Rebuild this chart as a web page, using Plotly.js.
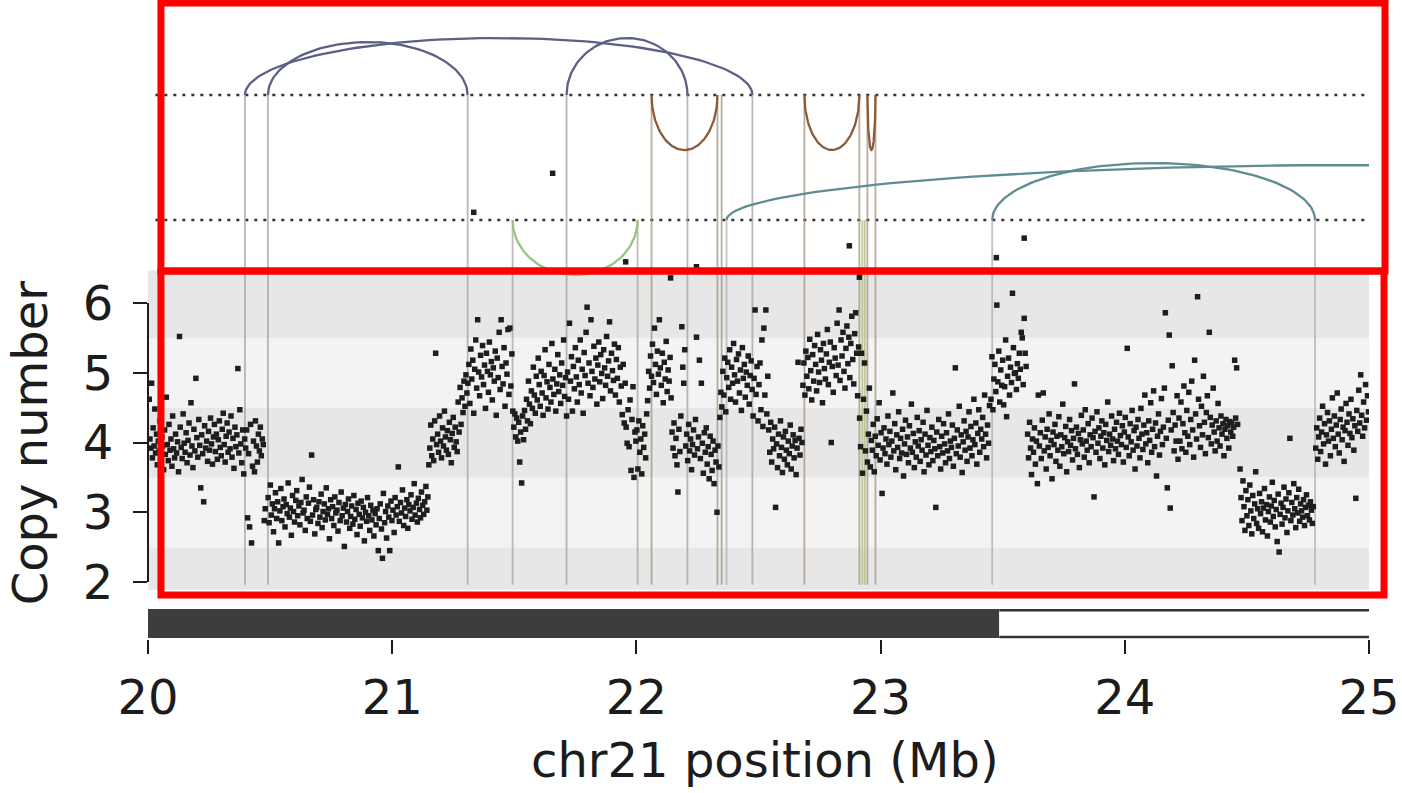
<!DOCTYPE html>
<html><head><meta charset="utf-8">
<script src="https://cdn.plot.ly/plotly-3.0.1.min.js"></script>
<style>html,body{margin:0;padding:0;background:#fff;}#chart{width:1402px;height:793px;}</style>
</head><body><div id="chart"></div>
<script>
// ---------- DATA ----------
// Axis ticks
const xTicks = [20, 21, 22, 23, 24, 25];
const yTicks = [2, 3, 4, 5, 6];
const xTitle = 'chr21 position (Mb)';
const yTitle = 'Copy number';

// Structural variants (breakpoint positions, Mb) and their group
const svStartMb = [20.397, 20.491, 21.714, 22.062, 22.688, 22.946, 21.493, 22.369, 23.457];
const svEndMb   = [22.475, 21.309, 22.209, 22.332, 22.913, 22.979, 22.005, 27.619, 24.779];
const svGroup   = ['blue', 'blue', 'blue', 'brown', 'brown', 'brown', 'green', 'teal', 'teal'];
// Breakpoints whose partner is not drawn as an arc
const bkExtraMb    = [22.349, 22.925, 22.935];
const bkExtraGroup = ['brown', 'olive', 'olive'];

// Chromosome ideogram bands
const bandStartMb = [20.0, 23.486];
const bandEndMb   = [23.486, 25.0];
const bandStain   = ['gpos', 'gneg'];

// Copy-number bins [position Mb, copy number]
const cnSegA = [[20.005,4.62],[20.008,4.05],[20.012,3.92],[20.015,4.85],[20.018,3.78],[20.021,4.21],[20.025,3.95],[20.028,4.48],[20.031,3.85],[20.035,4.12],
[20.038,3.68],[20.042,4.02],[20.046,3.88],[20.049,4.31],[20.053,3.72],[20.057,4.08],[20.060,3.95],[20.064,3.61],[20.068,4.18],[20.071,3.83],
[20.075,4.65],[20.079,3.97],[20.083,3.74],[20.086,4.26],[20.090,3.89],[20.094,4.05],[20.098,3.66],[20.101,4.38],[20.105,3.91],[20.109,3.78],
[20.113,4.12],[20.117,3.85],[20.121,4.01],[20.125,3.58],[20.129,5.52],[20.132,4.22],[20.136,3.93],[20.140,3.77],[20.144,4.41],[20.148,3.99],
[20.152,3.86],[20.156,4.14],[20.160,3.71],[20.164,4.03],[20.168,4.28],[20.172,3.82],[20.176,4.57],[20.180,3.95],[20.184,3.64],[20.188,4.19],
[20.192,3.88],[20.196,4.92],[20.200,4.07],[20.204,3.79],[20.208,4.33],[20.212,3.96],[20.216,3.35],[20.220,4.11],[20.224,3.84],[20.228,3.15],
[20.232,4.24],[20.236,3.92],[20.240,4.02],[20.244,3.73],[20.248,4.16],[20.252,3.89],[20.256,4.35],[20.260,3.98],[20.264,3.69],[20.268,4.08],
[20.272,4.26],[20.276,3.87],[20.280,4.12],[20.284,3.76],[20.288,4.04],[20.292,4.31],[20.296,3.93],[20.300,3.81],[20.304,4.19],[20.308,4.42],
[20.312,3.97],[20.316,3.72],[20.320,4.09],[20.324,4.28],[20.328,3.86],[20.332,4.15],[20.336,3.91],[20.340,4.38],[20.344,3.79],[20.348,4.06],
[20.352,3.63],[20.356,4.22],[20.360,3.94],[20.364,4.11],[20.368,5.06],[20.372,3.85],[20.376,4.47],[20.380,3.98],[20.384,3.71],[20.388,4.18],
[20.392,3.55],[20.396,4.05],[20.400,3.92],[20.404,4.18],[20.408,2.92],[20.412,3.84],[20.416,2.79],[20.420,4.26],[20.424,2.56],[20.428,3.66],
[20.432,4.02],[20.436,3.58],[20.440,4.31],[20.444,3.95],[20.448,3.72],[20.452,4.12],[20.456,3.88],[20.460,4.22],[20.464,3.81],[20.468,4.05],
[20.472,3.97],[20.476,2.88],[20.480,3.05]];
const cnSegB = [[20.492,3.21],[20.496,2.85],[20.501,3.39],[20.505,2.96],[20.509,3.12],[20.514,2.72],[20.518,3.05],[20.522,3.28],[20.527,2.91],[20.531,3.15],
[20.535,2.56],[20.540,3.02],[20.544,3.34],[20.548,2.88],[20.553,3.08],[20.557,3.19],[20.561,2.79],[20.566,3.11],[20.570,2.98],[20.574,3.42],
[20.579,2.93],[20.583,3.06],[20.587,2.67],[20.592,3.24],[20.596,3.01],[20.600,2.86],[20.605,3.17],[20.609,3.31],[20.613,2.95],[20.618,3.09],
[20.622,2.82],[20.626,3.14],[20.631,3.47],[20.635,2.99],[20.639,3.03],[20.644,2.74],[20.648,3.22],[20.652,2.91],[20.657,3.13],[20.661,3.36],
[20.665,2.87],[20.670,3.82],[20.674,2.96],[20.678,3.18],[20.683,2.69],[20.687,3.04],
[20.691,3.07],[20.696,2.84],[20.700,3.15],[20.704,2.93],[20.709,3.26],[20.713,2.78],[20.717,3.01],[20.722,3.12],[20.726,2.89],[20.730,3.35],
[20.735,2.97],[20.739,3.05],[20.743,2.62],[20.748,3.18],[20.752,2.91],[20.756,3.08],[20.761,2.81],[20.765,3.22],[20.769,2.99],[20.774,3.03],
[20.778,2.73],[20.782,3.14],[20.787,2.88],[20.791,3.29],[20.795,2.95],[20.800,3.06],[20.804,2.51],[20.808,3.11],[20.813,2.86],[20.817,3.01],
[20.821,3.19],[20.826,2.77],[20.830,2.94],[20.834,3.09],[20.839,2.83],[20.843,3.24],[20.847,2.90],[20.852,3.04],[20.856,2.68],[20.860,3.13],
[20.865,2.97],[20.869,2.80],[20.873,3.16],[20.878,2.92],[20.882,3.07],[20.886,2.59],[20.891,3.00],[20.895,2.87],[20.899,3.21],[20.904,2.95],
[20.908,2.74],[20.912,3.10],[20.917,2.89],[20.921,3.03],[20.925,2.66],[20.930,2.98],
[20.934,2.82],[20.938,3.05],[20.943,2.45],[20.947,2.91],[20.951,3.12],[20.956,2.76],[20.960,2.34],[20.964,3.27],[20.969,2.85],[20.973,3.01],
[20.977,2.63],[20.982,3.09],[20.986,2.93],[20.990,2.45],[20.995,3.16],[20.999,2.88],[21.003,3.03],[21.008,2.71],[21.012,3.21],[21.016,2.96],
[21.021,3.08],[21.025,3.65],[21.029,2.87],[21.034,3.14],[21.038,2.99],[21.042,3.32],[21.047,2.81],[21.051,3.06],[21.055,2.94],[21.060,3.18],
[21.064,2.77],[21.068,3.11],[21.073,3.02],[21.077,3.25],[21.081,2.90],[21.086,3.07],[21.090,3.41],[21.094,2.96],[21.099,3.13],[21.103,2.86],
[21.107,3.20],[21.112,3.04],[21.116,2.92],[21.120,3.29],[21.125,3.10],[21.129,2.97],[21.133,3.15],[21.138,3.37],[21.142,3.03],[21.146,3.22]];
const cnSegC = [[21.150,3.68],[21.154,3.92],[21.158,4.25],[21.162,3.81],[21.166,4.05],[21.170,3.74],[21.174,4.31],[21.178,5.28],[21.182,3.97],[21.186,4.12],
[21.190,3.86],[21.194,4.38],[21.198,4.02],[21.202,3.78],[21.206,4.21],[21.210,3.95],[21.214,4.45],[21.218,4.08],[21.222,3.89],[21.226,4.17],
[21.230,3.83],[21.234,4.29],[21.238,4.04],[21.242,3.71],[21.246,4.13],[21.250,4.36],[21.254,3.93],[21.258,4.22],[21.262,4.01],[21.266,3.87],
[21.270,4.58],[21.274,4.15],[21.278,4.79],[21.282,4.26],[21.286,4.64],[21.290,4.43],[21.294,4.88],[21.298,4.52],[21.302,4.97],[21.306,4.71]];
const cnSegD = [[21.310,4.85],[21.314,5.12],[21.318,4.56],[21.322,5.34],[21.326,4.91],[21.330,5.18],[21.334,4.42],[21.338,5.05],[21.342,5.47],[21.346,4.78],
[21.350,5.76],[21.354,5.01],[21.358,4.67],[21.362,5.25],[21.366,4.94],[21.370,5.39],[21.374,4.83],[21.378,5.11],[21.382,4.49],[21.386,5.28],
[21.390,5.02],[21.394,4.72],[21.398,5.44],[21.402,4.97],[21.406,5.16],[21.410,4.61],[21.414,5.07],[21.418,4.88],[21.422,5.31],[21.426,4.39],
[21.430,5.21],[21.434,4.93],[21.438,5.58],[21.442,4.76],[21.446,5.76],[21.450,5.09],[21.454,4.84],[21.458,5.36],[21.462,4.52],[21.466,5.14],
[21.470,4.98],[21.474,5.62],[21.478,4.69],[21.482,5.64],[21.486,4.81],[21.490,5.27],[21.494,4.45]];
const cnSegE = [[21.498,4.22],[21.502,4.41],[21.506,4.08],[21.510,4.35],[21.514,4.02],[21.518,4.29],[21.522,3.72],[21.526,4.15],[21.530,3.42],[21.534,4.38],
[21.538,4.04],[21.542,4.46],[21.546,4.19],[21.550,4.62],[21.554,4.31],[21.558,4.88],[21.562,4.55],[21.566,4.27],[21.570,4.74],[21.574,4.49],
[21.578,5.08],[21.582,4.68],[21.586,4.42],[21.590,4.95],[21.594,4.61],[21.598,5.21],[21.602,4.83],[21.606,4.52],[21.610,5.02],[21.614,4.71],
[21.618,4.39],[21.622,4.96],[21.626,5.33],[21.630,4.64],[21.634,4.87],[21.638,4.48],[21.642,5.12],[21.646,4.79],[21.650,4.58],[21.654,5.42],
[21.658,4.91],[21.662,4.69],[21.666,5.05],[21.670,4.45],[21.674,4.84],[21.678,5.26],[21.682,4.73],[21.686,4.97],[21.690,4.56],[21.694,5.14],
[21.698,4.82],[21.702,5.47],[21.706,4.66],[21.710,4.93],[21.714,4.38]];
const cnSegF = [[21.718,5.01],[21.722,4.62],[21.726,5.71],[21.730,4.88],[21.734,5.23],[21.738,4.45],[21.742,5.09],[21.746,4.77],[21.750,5.36],[21.754,4.94],
[21.758,4.58],[21.762,5.18],[21.766,4.83],[21.770,5.47],[21.774,4.71],[21.778,5.05],[21.782,4.42],[21.786,5.29],[21.790,4.96],[21.794,5.58],
[21.798,5.94],[21.802,4.85],[21.806,5.14],[21.810,4.67],[21.814,5.76],[21.818,5.02],[21.822,4.79],[21.826,5.38],[21.830,4.91],[21.834,5.21],
[21.838,4.55],[21.842,5.11],[21.846,5.44],[21.850,4.87],[21.854,5.26],[21.858,4.99],[21.862,4.63],[21.866,5.33],[21.870,5.07],[21.874,4.82],
[21.878,5.52],[21.882,4.95],[21.886,5.17],[21.890,5.73],[21.894,4.74],[21.898,5.28],[21.902,5.03],[21.906,4.89],[21.910,5.41],[21.914,4.68],
[21.918,5.19],[21.922,4.92],[21.926,5.36],[21.930,4.58],[21.934,5.08],[21.938,4.81],[21.942,4.40],[21.946,5.12],[21.950,4.28],[21.954,4.85],
[21.958,4.22],[21.962,3.99],[21.966,4.47],[21.970,3.94],[21.974,4.61],[21.978,3.60],[21.982,4.33],[21.986,4.80],[21.990,3.50],[21.994,4.15],[21.998,4.02]];
const cnSegG = [[22.002,4.18],[22.006,3.62],[22.010,4.31],[22.014,3.86],[22.018,4.05],[22.022,3.55],[22.026,4.24],[22.030,3.93],[22.034,4.12],[22.038,3.78],
[22.042,4.41],[22.046,4.60],[22.050,5.02],[22.054,4.78],[22.058,5.24],[22.062,4.95],[22.066,5.41],[22.070,4.86],[22.074,5.64],[22.078,5.12],
[22.082,4.69],[22.086,5.31],[22.090,4.98],[22.094,5.76],[22.098,5.07],[22.102,4.82],[22.106,5.28],[22.110,4.57],[22.114,5.15],[22.118,4.91],
[22.122,5.45],[22.126,4.73],[22.130,5.04],[22.134,4.88],[22.138,5.22],[22.142,4.64],[22.146,4.15],[22.150,3.92],[22.154,4.28],[22.158,3.81],
[22.162,4.06],[22.166,3.68],[22.170,3.29],[22.174,4.19],[22.178,3.87],[22.182,4.38],[22.186,5.66],[22.190,5.08],[22.194,4.85],[22.198,5.33]];
const cnSegH = [[22.202,3.95],[22.206,4.12],[22.210,3.74],[22.214,4.26],[22.218,3.88],[22.222,4.05],[22.226,3.61],[22.230,3.97],[22.234,4.18],[22.238,3.82],
[22.242,4.33],[22.246,5.51],[22.250,3.91],[22.254,4.08],[22.258,5.18],[22.262,3.77],[22.266,4.85],[22.270,3.99],[22.274,3.56],[22.278,4.14],
[22.282,3.86],[22.286,4.21],[22.290,3.69],[22.294,3.94],[22.298,3.48],[22.302,4.09],[22.306,3.83],[22.310,3.60],[22.314,4.02],[22.318,3.41],
[22.322,3.89],[22.326,3.72],[22.330,3.00],[22.334,3.95],[22.338,3.65]];
const cnSegI = [[22.342,4.36],[22.346,4.72],[22.350,4.51],[22.354,5.02],[22.358,4.68],[22.362,5.21],[22.366,4.44],[22.370,4.93],[22.374,5.15],[22.378,4.79],
[22.382,5.33],[22.386,4.62],[22.390,5.08],[22.394,4.85],[22.398,5.42],[22.402,4.97],[22.406,4.58],[22.410,5.19],[22.414,4.88],[22.418,5.27],
[22.422,4.71],[22.426,5.04],[22.430,4.46],[22.434,5.36],[22.438,4.92],[22.442,5.12],[22.446,4.65],[22.450,5.01],[22.454,4.82],[22.458,5.24],
[22.462,4.55],[22.466,4.96],[22.470,5.17],[22.474,4.76],[22.478,4.38],[22.482,4.92],[22.486,5.90],[22.490,4.69],[22.494,5.09],[22.498,4.31],
[22.502,4.83],[22.506,5.14],[22.510,4.47],[22.514,5.47],[22.518,4.23],[22.522,5.64],[22.526,4.68],[22.530,5.90],[22.534,4.41],[22.538,4.95]];
const cnSegJ = [[22.542,4.18],[22.546,3.86],[22.550,4.29],[22.554,3.72],[22.558,4.05],[22.562,3.91],[22.566,4.22],[22.570,3.07],[22.574,3.98],[22.578,3.64],
[22.582,4.12],[22.586,3.81],[22.590,4.31],[22.594,3.93],[22.598,3.57],[22.602,4.08],[22.606,3.76],[22.610,4.16],[22.614,3.89],[22.618,3.68],
[22.622,4.02],[22.626,3.84],[22.630,4.25],[22.634,3.62],[22.638,3.95],[22.642,4.11],[22.646,3.78],[22.650,4.03],[22.654,3.54],[22.658,3.92],
[22.662,5.15],[22.666,4.06],[22.670,3.82],[22.674,4.19],[22.678,4.00]];
const cnSegK = [[22.682,4.82],[22.686,5.14],[22.690,4.68],[22.694,5.31],[22.698,4.95],[22.702,5.22],[22.706,4.77],[22.710,5.48],[22.714,5.03],[22.718,4.61],
[22.722,5.26],[22.726,4.88],[22.730,5.39],[22.734,5.12],[22.738,4.74],[22.742,5.55],[22.746,5.01],[22.750,4.86],[22.754,5.33],[22.758,5.18],
[22.762,4.57],[22.766,5.42],[22.770,5.06],[22.774,4.91],[22.778,5.27],[22.782,5.62],[22.786,4.83],[22.790,5.15],[22.794,5.44],[22.798,4.00],
[22.802,5.09],[22.806,4.72],[22.810,5.36],[22.814,5.21],[22.818,4.96],[22.822,5.71],[22.826,5.11],[22.830,5.90],[22.834,4.89],[22.838,5.47],
[22.842,5.24],[22.846,5.58],[22.850,5.02],[22.854,4.78],[22.858,5.35],[22.862,5.67],[22.866,5.13],[22.870,5.51],[22.874,4.93],[22.878,5.42],
[22.882,5.81],[22.886,5.19],[22.890,4.84],[22.894,5.56],[22.898,5.86],[22.902,5.28],[22.906,4.67],[22.910,5.37]];
const cnSegL = [[22.914,4.35],[22.918,3.94],[22.922,5.28],[22.926,3.56],[22.930,4.62],[22.934,5.14],[22.938,3.88],[22.942,4.45],[22.946,3.72],[22.950,4.12],
[22.954,4.78],[22.958,3.65],[22.962,4.03],[22.966,3.89],[22.970,4.26],[22.974,3.58],[22.978,4.09],[22.982,3.81],[22.986,4.34],[22.990,3.96],
[22.994,4.57],[22.998,3.75],[23.002,4.14],[23.006,3.27],[23.010,3.92],[23.014,4.21],[23.018,3.84],[23.022,4.05],[23.026,3.69],[23.030,4.38],
[23.034,3.97],[23.038,4.16],[23.042,3.79],[23.046,4.02],[23.050,4.71],[23.054,3.88],[23.058,4.27],[23.062,3.61],[23.066,4.11],[23.070,3.93],
[23.074,4.44],[23.078,3.77],[23.082,4.06],[23.086,3.85],[23.090,4.19],[23.094,3.52],[23.098,3.98],[23.102,4.32],[23.106,3.83],[23.110,4.08],
[23.114,3.71],[23.118,4.24],[23.122,3.92],[23.126,4.55],[23.130,3.86],[23.134,4.13],[23.138,3.64],[23.142,4.01],[23.146,3.79],[23.150,4.36],
[23.154,3.95],[23.158,4.17],[23.162,3.73],[23.166,4.04],[23.170,3.89],[23.174,4.29],[23.178,3.58],[23.182,4.12],[23.186,3.82],[23.190,4.46],
[23.194,3.96],[23.198,3.68],[23.202,4.07],[23.206,3.87],[23.210,4.22],[23.214,3.74],[23.218,4.03],[23.222,3.91],[23.226,3.07],[23.230,4.15],
[23.234,3.81],[23.238,4.33],[23.242,3.94],[23.246,3.62],[23.250,4.09],[23.254,3.85],[23.258,4.27],[23.262,3.98],[23.266,3.71],[23.270,4.14],
[23.274,3.88],[23.278,4.41],[23.282,3.77],[23.286,4.02],[23.290,3.93],[23.294,4.25],[23.298,3.66],[23.302,4.06],[23.306,5.07],[23.310,3.84],
[23.314,4.18],[23.318,3.95],[23.322,4.52],[23.326,3.79],[23.330,4.11],[23.334,3.57],[23.338,4.01],[23.342,4.31],[23.346,3.89],[23.350,4.16],
[23.354,3.73],[23.358,4.08],[23.362,4.44],[23.366,3.92],[23.370,4.23],[23.374,3.81],[23.378,4.04],[23.382,4.62],[23.386,3.97],[23.390,4.28],
[23.394,3.69],[23.398,4.13],[23.402,4.47],[23.406,3.86],[23.410,4.19],[23.414,4.05],[23.418,4.36],[23.422,3.94],[23.426,4.68],[23.430,4.12],
[23.434,3.78],[23.438,4.25],[23.442,3.99],[23.446,4.53]];
const cnSegM = [[23.452,4.62],[23.456,5.23],[23.460,4.47],[23.464,4.91],[23.468,5.12],[23.472,4.73],[23.476,5.97],[23.480,4.87],[23.484,5.31],[23.488,4.58],
[23.492,5.04],[23.496,4.82],[23.500,5.18],[23.504,4.54],[23.508,4.80],[23.512,5.47],[23.516,4.37],[23.520,4.95],[23.524,5.21],[23.528,4.68],
[23.532,5.08],[23.536,4.86],[23.540,6.14],[23.544,5.36],[23.548,4.99],[23.552,5.00],[23.556,4.76],[23.560,5.13],[23.564,4.92],[23.568,5.28],
[23.572,5.05],[23.576,5.58],[23.580,5.50],[23.584,4.83],[23.588,5.78],[23.592,5.28],[23.596,5.09]];
const cnSegN = [[23.602,4.12],[23.606,3.78],[23.610,4.29],[23.614,3.92],[23.618,3.54],[23.622,4.05],[23.626,3.86],[23.630,4.21],[23.634,3.69],[23.638,4.02],
[23.642,3.41],[23.646,4.68],[23.650,3.95],[23.654,4.14],[23.658,3.77],[23.662,4.32],[23.666,4.71],[23.670,3.88],[23.674,4.08],[23.678,3.62],
[23.682,4.19],[23.686,3.93],[23.690,4.41],[23.694,3.81],[23.698,4.03],[23.702,3.48],[23.706,4.15],[23.710,3.97],[23.714,4.26],[23.718,3.73],
[23.722,4.09],[23.726,3.89],[23.730,4.37],[23.734,3.66],[23.738,4.11],[23.742,3.94],[23.746,4.55],[23.750,3.84],[23.754,4.07],[23.758,4.23],
[23.762,3.58],[23.766,4.01],[23.770,3.87],[23.774,4.33],[23.778,3.96],[23.782,4.17],[23.786,3.75],[23.790,4.06],[23.794,4.84],[23.798,3.91],
[23.802,4.22],[23.806,3.83],[23.810,4.13],[23.814,3.64],[23.818,4.04],[23.822,4.39],[23.826,3.98],[23.830,4.18],[23.834,3.79],[23.838,4.47],
[23.842,4.02],[23.846,3.89],[23.850,4.27],[23.854,3.71],[23.858,4.11],[23.862,3.94],[23.866,4.35],[23.870,4.07],[23.874,3.22],[23.878,4.16],
[23.882,3.86],[23.886,4.44],[23.890,3.99],[23.894,4.21],[23.898,3.77],[23.902,4.09],[23.906,4.31],[23.910,3.92],[23.914,4.14],[23.918,3.68],
[23.922,4.26],[23.926,4.03],[23.930,4.58],[23.934,3.87],[23.938,4.12],[23.942,3.96],[23.946,4.38],[23.950,4.05],[23.954,3.74],[23.958,4.19],
[23.962,3.91],[23.966,4.29],[23.970,4.02],[23.974,3.83],[23.978,4.42],[23.982,4.10],[23.986,3.97],[23.990,4.24],[23.994,3.72],[23.998,4.15],
[24.002,4.36],[24.006,3.93],[24.010,5.35],[24.014,4.08],[24.018,3.81],[24.022,4.27],[24.026,4.01],[24.030,4.46],[24.034,3.89],[24.038,4.17],
[24.042,3.62],[24.046,4.22],[24.050,3.95],[24.054,4.33],[24.058,4.06],[24.062,3.78],[24.066,4.49],[24.070,4.12],[24.074,3.90],[24.078,4.25],
[24.082,4.68],[24.086,3.98],[24.090,4.14],[24.094,3.71],[24.098,4.31],[24.102,4.03],[24.106,4.57],[24.110,3.86],[24.114,4.19],[24.118,4.74],
[24.122,3.94],[24.126,4.28],[24.130,3.52],[24.134,4.09],[24.138,4.41],[24.142,3.82],[24.146,4.16],[24.150,4.63],[24.154,3.97],[24.158,4.22],
[24.162,4.78],[24.166,5.86],[24.170,4.06],[24.174,3.35],[24.178,4.32],[24.182,5.54],[24.186,3.06],[24.190,4.18],[24.194,5.10],[24.198,4.43],
[24.202,3.88],[24.206,4.25],[24.210,4.02],[24.214,4.67],[24.218,3.76]];
const cnSegO = [[24.222,4.35],[24.226,4.02],[24.230,4.58],[24.234,3.91],[24.238,4.27],[24.242,4.81],[24.246,4.14],[24.250,3.86],[24.254,4.46],[24.258,4.09],
[24.262,4.72],[24.266,3.97],[24.270,4.33],[24.274,4.88],[24.278,4.18],[24.282,3.79],[24.286,5.18],[24.290,4.41],[24.294,4.05],[24.298,6.09],
[24.302,4.62],[24.306,4.24],[24.310,3.93],[24.314,4.52],[24.318,4.11],[24.322,4.95],[24.326,4.29],[24.330,3.84],[24.334,4.43],[24.338,4.67],
[24.342,4.07],[24.346,5.58],[24.350,4.36],[24.354,3.98],[24.358,4.25],[24.362,4.78],[24.366,4.15],[24.370,3.88],[24.374,4.31],[24.378,4.02],
[24.382,4.56],[24.386,4.21],[24.390,3.95],[24.394,4.38],[24.398,4.12],[24.402,4.27],[24.406,3.81],[24.410,4.19],[24.414,4.33],[24.418,4.06],
[24.422,4.24],[24.426,3.92],[24.430,4.30],[24.434,4.15],[24.438,4.28],[24.442,4.09],[24.446,4.22],[24.450,5.18],[24.454,4.35],[24.458,5.07],[24.462,4.26]];
const cnSegP = [[24.472,3.62],[24.476,3.21],[24.480,2.88],[24.484,3.45],[24.488,3.08],[24.492,2.74],[24.496,3.31],[24.500,2.95],[24.504,3.18],[24.508,2.81],
[24.512,3.39],[24.516,3.02],[24.520,2.69],[24.524,3.24],[24.528,2.91],[24.532,3.12],[24.536,3.58],[24.540,2.84],[24.544,3.05],[24.548,2.77],
[24.552,3.27],[24.556,2.98],[24.560,3.15],[24.564,2.72],[24.568,3.06],[24.572,3.34],[24.576,2.89],[24.580,3.11],[24.584,2.66],[24.588,3.01],
[24.592,3.22],[24.596,2.86],[24.600,3.09],[24.604,3.43],[24.608,2.94],[24.612,3.17],[24.616,2.79],[24.620,3.04],[24.624,2.58],[24.628,3.26],
[24.632,2.43],[24.636,2.97],[24.640,3.13],[24.644,2.83],[24.648,3.07],[24.652,3.36],[24.656,2.92],[24.660,3.19],[24.664,2.71],[24.668,3.02],
[24.672,3.28],[24.676,4.06],[24.680,2.88],[24.684,3.14],[24.688,2.96],[24.692,3.41],[24.696,3.05],[24.700,2.78],[24.704,3.21],[24.708,2.99],
[24.712,3.33],[24.716,2.87],[24.720,3.12],[24.724,3.02],[24.728,2.93],[24.732,3.18],[24.736,2.81],[24.740,3.07],[24.744,3.25],[24.748,2.95],
[24.752,3.10],[24.756,2.89],[24.760,3.15],[24.764,3.03],[24.768,2.84],[24.772,3.08]];
const cnSegQ = [[24.782,3.92],[24.786,4.21],[24.790,3.76],[24.794,4.08],[24.798,4.35],[24.802,3.87],[24.806,4.15],[24.810,4.52],[24.814,3.98],[24.818,4.27],
[24.822,3.69],[24.826,4.11],[24.830,4.43],[24.834,4.02],[24.838,4.31],[24.842,3.81],[24.846,4.19],[24.850,4.64],[24.854,4.06],[24.858,4.38],
[24.862,3.94],[24.866,4.25],[24.870,4.71],[24.874,4.12],[24.878,3.85],[24.882,4.33],[24.886,4.48],[24.890,4.04],[24.894,4.22],[24.898,3.73],
[24.902,4.17],[24.906,4.56],[24.910,4.29],[24.914,3.96],[24.918,4.41],[24.922,4.13],[24.926,4.62],[24.930,4.07],[24.934,4.34],[24.938,3.89],
[24.942,4.24],[24.946,3.20],[24.950,4.46],[24.954,4.16],[24.958,4.75],[24.962,4.28],[24.966,4.97],[24.970,4.39],[24.974,4.09],[24.978,4.58],
[24.982,4.21],[24.986,4.83],[24.990,4.32],[24.994,4.67],[24.998,4.44]];
// High copy-number bins that fall into the SV panel
const cnHighMb  = [21.334, 21.657, 21.956, 22.140, 22.246, 22.872, 22.913, 23.474, 23.588];
const cnHighVal = [7.30, 7.86, 6.59, 6.36, 6.52, 6.82, 6.37, 6.65, 6.93];

// ---------- STYLE ----------
const FONT = 'DejaVu Sans, sans-serif';
const FS = 48;
const INK = '#1c1c1c';
const upperLevel = 8.982, lowerLevel = 7.19, lineBottom = 1.96;
const groupStyle = {
  blue:  {color: '#5c5f86', vline: 'rgba(160,160,165,0.75)', level: upperLevel, dir: 1},
  brown: {color: '#8a5b3b', vline: 'rgba(165,145,125,0.75)', level: upperLevel, dir: -1},
  green: {color: '#94c583', vline: 'rgba(160,160,160,0.7)', level: lowerLevel, dir: -1},
  teal:  {color: '#5f8c90', vline: 'rgba(165,170,170,0.7)', level: lowerLevel, dir: 1},
  olive: {color: '#b0c080', vline: 'rgba(175,195,130,0.85)', level: lowerLevel, dir: 1}
};
const arcHeight = [0.817, 0.76, 0.817, 0.789, 0.789, 0.789, 0.789, 0.789, 0.817];
const bandColor = {gpos: '#3c3e3d', gneg: '#ffffff'};

// ---------- BUILD ----------
const allCN = [].concat(cnSegA, cnSegB, cnSegC, cnSegD, cnSegE, cnSegF, cnSegG, cnSegH, cnSegI,
  cnSegJ, cnSegK, cnSegL, cnSegM, cnSegN, cnSegO, cnSegP, cnSegQ);
const ptX = allCN.map(p => p[0]).concat(cnHighMb);
const ptY = allCN.map(p => p[1]).concat(cnHighVal);

const traces = [];
const vl = {};
Object.keys(groupStyle).forEach(g => vl[g] = {x: [], y: []});
function addV(pos, g) {
  if (pos < 20 || pos > 25) return;
  vl[g].x.push(pos, pos, null);
  vl[g].y.push(groupStyle[g].level, lineBottom, null);
}
svStartMb.forEach((s, i) => { addV(s, svGroup[i]); addV(svEndMb[i], svGroup[i]); });
bkExtraMb.forEach((s, i) => addV(s, bkExtraGroup[i]));
Object.keys(vl).forEach(g => { if (vl[g].x.length) traces.push({type: 'scatter', mode: 'lines', x: vl[g].x, y: vl[g].y,
  line: {color: groupStyle[g].vline, width: 1.8}, hoverinfo: 'skip', showlegend: false}); });

const arcs = {};
Object.keys(groupStyle).forEach(g => arcs[g] = {x: [], y: []});
svStartMb.forEach((s, i) => {
  const g = svGroup[i], st = groupStyle[g];
  const c = (s + svEndMb[i]) / 2, hw = (svEndMb[i] - s) / 2;
  const N = 90;
  for (let k = 0; k <= N; k++) {
    const t = Math.PI * k / N;
    arcs[g].x.push(c - hw * Math.cos(t));
    arcs[g].y.push(st.level + st.dir * arcHeight[i] * Math.sin(t));
  }
  arcs[g].x.push(null); arcs[g].y.push(null);
});
Object.keys(arcs).forEach(g => { if (arcs[g].x.length) traces.push({type: 'scatter', mode: 'lines', x: arcs[g].x, y: arcs[g].y,
  line: {color: groupStyle[g].color, width: 2.3}, hoverinfo: 'skip', showlegend: false}); });

traces.push({type: 'scatter', mode: 'markers', x: ptX, y: ptY,
  marker: {symbol: 'square', size: 5.5, color: '#1e1e1e', line: {width: 0}}, showlegend: false, hoverinfo: 'x+y'});

const shapes = [];
const bandEdges = [1.885, 2.5, 3.5, 4.5, 5.5, 6.47];
for (let i = 0; i < bandEdges.length - 1; i++) {
  shapes.push({type: 'rect', layer: 'below', xref: 'x', yref: 'y', x0: 20, x1: 25,
    y0: bandEdges[i], y1: bandEdges[i + 1], fillcolor: i % 2 === 0 ? '#e7e7e7' : '#f3f3f3', line: {width: 0}});
}
[upperLevel, lowerLevel].forEach(lv => shapes.push({type: 'line', layer: 'below', xref: 'x', yref: 'y',
  x0: 20.03, x1: 25, y0: lv, y1: lv, line: {color: '#333333', width: 2.6, dash: '3px,6px'}}));
shapes.push({type: 'line', xref: 'paper', yref: 'y', x0: 0, x1: 0, y0: 2, y1: 6, line: {color: INK, width: 2}});
bandStartMb.forEach((s, i) => {
  shapes.push({type: 'rect', xref: 'x', yref: 'paper', x0: s, x1: bandEndMb[i], y0: 0.0015, y1: 0.047,
    fillcolor: bandColor[bandStain[i]], line: {width: 0}});
  if (bandStain[i] === 'gneg') {
    shapes.push({type: 'line', xref: 'x', yref: 'paper', x0: s, x1: bandEndMb[i], y0: 0.045, y1: 0.045, line: {color: '#333', width: 2.5}});
    shapes.push({type: 'line', xref: 'x', yref: 'paper', x0: s, x1: bandEndMb[i], y0: 0.003, y1: 0.003, line: {color: '#333', width: 2.5}});
  }
});
shapes.push({type: 'rect', layer: 'above', xref: 'paper', yref: 'paper', x0: 0.0106, x1: 1.0131, y0: 0.5759, y1: 0.9953,
  line: {color: '#ff0000', width: 7}, fillcolor: 'rgba(0,0,0,0)'});
shapes.push({type: 'rect', layer: 'above', xref: 'paper', yref: 'paper', x0: 0.0106, x1: 1.0123, y0: 0.0689, y1: 0.5759,
  line: {color: '#ff0000', width: 7}, fillcolor: 'rgba(0,0,0,0)'});

const layout = {
  width: 1402, height: 793,
  margin: {l: 148, r: 33, t: 0, b: 154},
  paper_bgcolor: '#ffffff', plot_bgcolor: 'rgba(0,0,0,0)',
  showlegend: false,
  font: {family: FONT, color: INK},
  xaxis: {range: [20, 25], tickvals: xTicks, ticktext: xTicks.map(String), ticks: 'outside', ticklen: 14, tickwidth: 2,
    tickcolor: INK, showgrid: false, zeroline: false, showline: false, tickfont: {family: FONT, size: FS, color: INK},
    ticklabelstandoff: 2, fixedrange: true},
  yaxis: {range: [1.183, 10.344], tickvals: yTicks, ticktext: yTicks.map(String), ticks: 'outside', ticklen: 14, tickwidth: 2,
    tickcolor: INK, showgrid: false, zeroline: false, showline: false, tickfont: {family: FONT, size: FS, color: INK},
    ticklabelstandoff: 10, fixedrange: true},
  shapes: shapes,
  annotations: [
    {text: yTitle, xref: 'paper', yref: 'y', x: -0.0966, y: 3.99, xanchor: 'center', yanchor: 'middle', textangle: -90,
      showarrow: false, font: {family: FONT, size: FS, color: INK}},
    {text: xTitle, xref: 'paper', yref: 'paper', x: 0.505, y: -0.19, xanchor: 'center', yanchor: 'middle',
      showarrow: false, font: {family: FONT, size: FS, color: INK}}
  ]
};
Plotly.newPlot('chart', traces, layout, {displayModeBar: false, staticPlot: true});
</script></body></html>
